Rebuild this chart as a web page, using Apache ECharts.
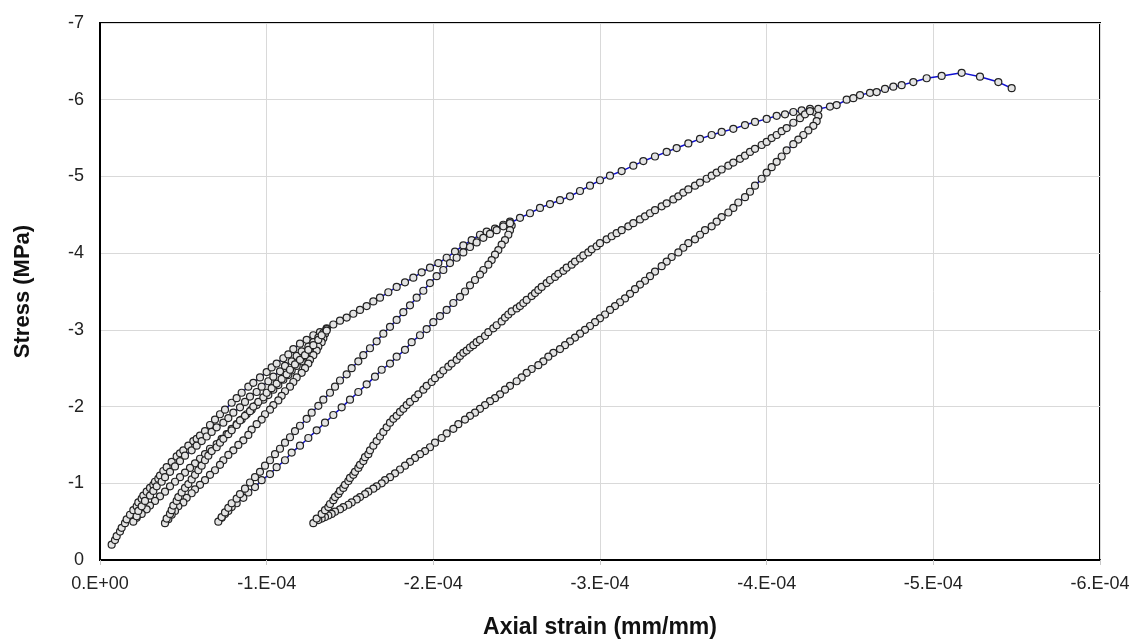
<!DOCTYPE html>
<html>
<head>
<meta charset="utf-8">
<script src="https://cdn.jsdelivr.net/npm/echarts@6/dist/echarts.min.js"></script>
<style>
html,body{margin:0;padding:0;background:#fff;}
#chart{width:1137px;height:639px;}
</style>
</head>
<body>
<div id="chart"></div>
<script>
// Strain values are given in units of 1E-04 mm/mm, stress in MPa (compression negative)
const xTickValues = [0, -1, -2, -3, -4, -5, -6]; // ×1E-04
const yTickLabels = ['0', '-1', '-2', '-3', '-4', '-5', '-6', '-7'];

const envelopeToP1 = [[-0.07,-0.20],[-0.09,-0.26],[-0.10,-0.31],[-0.12,-0.37],[-0.13,-0.42],[-0.15,-0.48],[-0.16,-0.53],[-0.18,-0.59],[-0.20,-0.65],[-0.22,-0.70],[-0.23,-0.75],[-0.25,-0.80],[-0.26,-0.84],[-0.28,-0.89],[-0.30,-0.94],[-0.32,-0.98],[-0.33,-1.02],[-0.35,-1.06],[-0.36,-1.10],[-0.38,-1.16],[-0.40,-1.21],[-0.43,-1.28],[-0.46,-1.35],[-0.48,-1.39],[-0.50,-1.43],[-0.53,-1.49],[-0.56,-1.55],[-0.58,-1.58],[-0.60,-1.62],[-0.63,-1.68],[-0.66,-1.76],[-0.69,-1.83],[-0.72,-1.90],[-0.75,-1.96],[-0.79,-2.05],[-0.82,-2.11],[-0.85,-2.18],[-0.89,-2.26],[-0.92,-2.31],[-0.96,-2.38],[-1.00,-2.45],[-1.03,-2.51],[-1.06,-2.56],[-1.10,-2.63],[-1.13,-2.68],[-1.16,-2.75],[-1.20,-2.82],[-1.24,-2.87],[-1.28,-2.93],[-1.32,-2.97],[-1.36,-3.02]];

const loop1aUnload = [[-1.36,-3.01],[-1.35,-2.96],[-1.33,-2.91],[-1.32,-2.87],[-1.30,-2.82],[-1.28,-2.77],[-1.26,-2.71],[-1.23,-2.65],[-1.21,-2.59],[-1.18,-2.53],[-1.15,-2.47],[-1.13,-2.41],[-1.10,-2.35],[-1.07,-2.28],[-1.04,-2.22],[-1.01,-2.15],[-0.98,-2.09],[-0.94,-2.02],[-0.91,-1.96],[-0.88,-1.90],[-0.85,-1.83],[-0.82,-1.77],[-0.79,-1.71],[-0.76,-1.64],[-0.73,-1.58],[-0.70,-1.51],[-0.66,-1.45],[-0.63,-1.38],[-0.60,-1.32],[-0.57,-1.26],[-0.54,-1.20],[-0.51,-1.14],[-0.48,-1.08],[-0.45,-1.02],[-0.42,-0.96],[-0.39,-0.89],[-0.36,-0.83],[-0.33,-0.77],[-0.30,-0.71],[-0.28,-0.66],[-0.25,-0.60],[-0.22,-0.55],[-0.20,-0.50]];

const loop1aReload = [[-0.22,-0.57],[-0.23,-0.64],[-0.25,-0.70],[-0.27,-0.77],[-0.30,-0.84],[-0.32,-0.90],[-0.34,-0.96],[-0.37,-1.02],[-0.39,-1.08],[-0.42,-1.15],[-0.45,-1.22],[-0.48,-1.29],[-0.51,-1.36],[-0.55,-1.43],[-0.58,-1.49],[-0.61,-1.55],[-0.64,-1.61],[-0.67,-1.67],[-0.70,-1.73],[-0.74,-1.79],[-0.77,-1.85],[-0.80,-1.92],[-0.84,-1.99],[-0.87,-2.06],[-0.90,-2.13],[-0.94,-2.19],[-0.97,-2.26],[-1.01,-2.33],[-1.04,-2.39],[-1.08,-2.46],[-1.11,-2.53],[-1.15,-2.59],[-1.18,-2.66],[-1.21,-2.72],[-1.25,-2.78],[-1.28,-2.84],[-1.31,-2.90],[-1.34,-2.96],[-1.36,-3.01]];

const loop1bUnload = [[-1.35,-2.95],[-1.34,-2.89],[-1.33,-2.84],[-1.31,-2.78],[-1.30,-2.73],[-1.28,-2.67],[-1.26,-2.61],[-1.25,-2.56],[-1.23,-2.50],[-1.21,-2.44],[-1.18,-2.38],[-1.16,-2.32],[-1.14,-2.26],[-1.11,-2.20],[-1.09,-2.14],[-1.07,-2.08],[-1.04,-2.02],[-1.02,-1.96],[-0.99,-1.90],[-0.97,-1.83],[-0.94,-1.77],[-0.91,-1.70],[-0.89,-1.63],[-0.86,-1.56],[-0.83,-1.50],[-0.80,-1.43],[-0.77,-1.37],[-0.74,-1.30],[-0.72,-1.24],[-0.69,-1.17],[-0.66,-1.11],[-0.63,-1.04],[-0.60,-0.98],[-0.57,-0.92],[-0.55,-0.87],[-0.52,-0.81],[-0.50,-0.75],[-0.47,-0.70],[-0.45,-0.64],[-0.43,-0.59],[-0.41,-0.53],[-0.39,-0.48]];

const loop1bReload = [[-0.40,-0.54],[-0.42,-0.60],[-0.43,-0.65],[-0.44,-0.71],[-0.46,-0.77],[-0.47,-0.82],[-0.49,-0.88],[-0.51,-0.94],[-0.53,-0.99],[-0.55,-1.05],[-0.57,-1.11],[-0.59,-1.17],[-0.61,-1.23],[-0.63,-1.30],[-0.65,-1.36],[-0.67,-1.42],[-0.70,-1.47],[-0.72,-1.53],[-0.74,-1.58],[-0.77,-1.64],[-0.79,-1.69],[-0.82,-1.76],[-0.84,-1.82],[-0.87,-1.88],[-0.90,-1.94],[-0.92,-2.00],[-0.95,-2.06],[-0.98,-2.12],[-1.00,-2.18],[-1.03,-2.24],[-1.06,-2.30],[-1.09,-2.36],[-1.12,-2.42],[-1.14,-2.48],[-1.17,-2.55],[-1.20,-2.61],[-1.23,-2.67],[-1.25,-2.74],[-1.28,-2.80],[-1.31,-2.87],[-1.33,-2.93],[-1.36,-2.99]];

const envelopeToP2 = [[-1.40,-3.07],[-1.44,-3.12],[-1.48,-3.16],[-1.52,-3.21],[-1.56,-3.26],[-1.60,-3.31],[-1.64,-3.37],[-1.68,-3.42],[-1.73,-3.49],[-1.78,-3.56],[-1.83,-3.62],[-1.88,-3.68],[-1.93,-3.75],[-1.98,-3.81],[-2.03,-3.87],[-2.08,-3.94],[-2.13,-4.02],[-2.18,-4.10],[-2.23,-4.17],[-2.28,-4.24],[-2.32,-4.28],[-2.37,-4.32],[-2.42,-4.37],[-2.46,-4.41]];

const loop2Unload = [[-2.47,-4.36],[-2.46,-4.30],[-2.45,-4.24],[-2.43,-4.17],[-2.41,-4.11],[-2.39,-4.04],[-2.37,-3.98],[-2.35,-3.91],[-2.33,-3.85],[-2.30,-3.78],[-2.28,-3.72],[-2.25,-3.65],[-2.22,-3.58],[-2.19,-3.50],[-2.16,-3.43],[-2.12,-3.35],[-2.08,-3.26],[-2.04,-3.18],[-2.00,-3.10],[-1.96,-3.01],[-1.92,-2.93],[-1.87,-2.84],[-1.83,-2.74],[-1.78,-2.65],[-1.74,-2.56],[-1.69,-2.48],[-1.65,-2.39],[-1.60,-2.29],[-1.55,-2.19],[-1.50,-2.09],[-1.45,-1.99],[-1.40,-1.89],[-1.35,-1.79],[-1.30,-1.69],[-1.25,-1.59],[-1.20,-1.49],[-1.15,-1.40],[-1.11,-1.30],[-1.06,-1.21],[-1.02,-1.12],[-0.97,-1.04],[-0.93,-0.95],[-0.89,-0.88],[-0.86,-0.81],[-0.82,-0.74],[-0.79,-0.69],[-0.77,-0.64],[-0.75,-0.60],[-0.73,-0.55],[-0.71,-0.50]];

const loop2Reload = [[-0.73,-0.56],[-0.75,-0.62],[-0.77,-0.68],[-0.79,-0.74],[-0.82,-0.80],[-0.84,-0.86],[-0.87,-0.93],[-0.90,-1.01],[-0.93,-1.08],[-0.96,-1.15],[-0.99,-1.23],[-1.02,-1.30],[-1.05,-1.38],[-1.08,-1.45],[-1.11,-1.53],[-1.14,-1.60],[-1.17,-1.68],[-1.20,-1.75],[-1.24,-1.84],[-1.27,-1.92],[-1.31,-2.01],[-1.34,-2.09],[-1.38,-2.18],[-1.41,-2.26],[-1.44,-2.34],[-1.48,-2.42],[-1.51,-2.50],[-1.55,-2.59],[-1.58,-2.67],[-1.62,-2.76],[-1.66,-2.85],[-1.70,-2.95],[-1.74,-3.04],[-1.78,-3.13],[-1.82,-3.23],[-1.86,-3.32],[-1.90,-3.42],[-1.94,-3.51],[-1.98,-3.61],[-2.02,-3.70],[-2.06,-3.78],[-2.10,-3.87],[-2.14,-3.94],[-2.18,-4.01],[-2.22,-4.08],[-2.26,-4.14],[-2.30,-4.20],[-2.34,-4.25],[-2.38,-4.30],[-2.42,-4.35],[-2.46,-4.39]];

const envelopeToP3 = [[-2.52,-4.46],[-2.58,-4.52],[-2.64,-4.59],[-2.70,-4.64],[-2.76,-4.69],[-2.82,-4.74],[-2.88,-4.81],[-2.94,-4.88],[-3.00,-4.95],[-3.06,-5.01],[-3.13,-5.07],[-3.20,-5.14],[-3.26,-5.20],[-3.33,-5.26],[-3.40,-5.32],[-3.46,-5.37],[-3.53,-5.43],[-3.60,-5.49],[-3.67,-5.54],[-3.73,-5.58],[-3.80,-5.62],[-3.87,-5.67],[-3.93,-5.71],[-4.00,-5.75],[-4.06,-5.79],[-4.11,-5.81],[-4.16,-5.84],[-4.21,-5.86],[-4.26,-5.88]];

const loop3Unload = [[-4.29,-5.84],[-4.31,-5.79],[-4.30,-5.72],[-4.28,-5.66],[-4.25,-5.60],[-4.22,-5.54],[-4.19,-5.48],[-4.16,-5.42],[-4.12,-5.34],[-4.09,-5.26],[-4.06,-5.19],[-4.03,-5.12],[-4.00,-5.05],[-3.97,-4.97],[-3.93,-4.88],[-3.90,-4.80],[-3.87,-4.73],[-3.83,-4.66],[-3.80,-4.59],[-3.77,-4.53],[-3.73,-4.47],[-3.70,-4.41],[-3.67,-4.35],[-3.63,-4.30],[-3.60,-4.24],[-3.57,-4.18],[-3.53,-4.13],[-3.50,-4.07],[-3.47,-4.01],[-3.43,-3.95],[-3.40,-3.89],[-3.37,-3.83],[-3.33,-3.76],[-3.30,-3.70],[-3.27,-3.64],[-3.24,-3.59],[-3.21,-3.53],[-3.18,-3.47],[-3.15,-3.41],[-3.12,-3.36],[-3.09,-3.31],[-3.06,-3.26],[-3.03,-3.20],[-3.00,-3.15],[-2.97,-3.10],[-2.94,-3.05],[-2.91,-3.00],[-2.88,-2.95],[-2.85,-2.90],[-2.82,-2.85],[-2.79,-2.80],[-2.76,-2.75],[-2.72,-2.70],[-2.69,-2.65],[-2.66,-2.59],[-2.63,-2.54],[-2.59,-2.49],[-2.56,-2.44],[-2.53,-2.38],[-2.50,-2.33],[-2.46,-2.27],[-2.43,-2.22],[-2.40,-2.16],[-2.37,-2.11],[-2.34,-2.07],[-2.31,-2.02],[-2.28,-1.97],[-2.25,-1.92],[-2.22,-1.88],[-2.19,-1.83],[-2.15,-1.77],[-2.12,-1.71],[-2.08,-1.65],[-2.05,-1.59],[-2.01,-1.53],[-1.98,-1.47],[-1.95,-1.42],[-1.92,-1.38],[-1.89,-1.33],[-1.86,-1.28],[-1.83,-1.23],[-1.80,-1.18],[-1.77,-1.13],[-1.74,-1.08],[-1.71,-1.04],[-1.69,-1.00],[-1.66,-0.96],[-1.64,-0.93],[-1.61,-0.89],[-1.59,-0.86],[-1.56,-0.82],[-1.54,-0.79],[-1.51,-0.75],[-1.49,-0.72],[-1.46,-0.69],[-1.44,-0.66],[-1.41,-0.63],[-1.39,-0.60],[-1.37,-0.58],[-1.35,-0.56],[-1.33,-0.54],[-1.31,-0.52],[-1.28,-0.48]];

const loop3Reload = [[-1.30,-0.54],[-1.33,-0.60],[-1.35,-0.65],[-1.37,-0.69],[-1.38,-0.73],[-1.40,-0.78],[-1.41,-0.82],[-1.43,-0.86],[-1.44,-0.90],[-1.46,-0.94],[-1.47,-0.98],[-1.49,-1.03],[-1.50,-1.07],[-1.52,-1.11],[-1.53,-1.15],[-1.55,-1.20],[-1.56,-1.24],[-1.58,-1.29],[-1.59,-1.34],[-1.61,-1.38],[-1.62,-1.43],[-1.64,-1.49],[-1.66,-1.55],[-1.68,-1.61],[-1.70,-1.67],[-1.72,-1.73],[-1.74,-1.79],[-1.76,-1.84],[-1.78,-1.88],[-1.80,-1.93],[-1.82,-1.97],[-1.84,-2.02],[-1.86,-2.06],[-1.89,-2.11],[-1.91,-2.16],[-1.94,-2.22],[-1.96,-2.27],[-1.99,-2.32],[-2.01,-2.37],[-2.04,-2.42],[-2.06,-2.47],[-2.09,-2.52],[-2.11,-2.56],[-2.14,-2.61],[-2.16,-2.66],[-2.18,-2.70],[-2.20,-2.73],[-2.22,-2.77],[-2.24,-2.80],[-2.26,-2.84],[-2.28,-2.87],[-2.31,-2.92],[-2.33,-2.97],[-2.36,-3.02],[-2.38,-3.06],[-2.41,-3.11],[-2.43,-3.16],[-2.45,-3.20],[-2.47,-3.24],[-2.50,-3.28],[-2.52,-3.31],[-2.54,-3.35],[-2.56,-3.39],[-2.59,-3.44],[-2.61,-3.48],[-2.63,-3.52],[-2.65,-3.56],[-2.68,-3.61],[-2.70,-3.65],[-2.73,-3.69],[-2.75,-3.73],[-2.78,-3.77],[-2.80,-3.81],[-2.83,-3.85],[-2.85,-3.89],[-2.88,-3.93],[-2.90,-3.97],[-2.93,-4.01],[-2.95,-4.05],[-2.98,-4.09],[-3.00,-4.13],[-3.04,-4.18],[-3.07,-4.22],[-3.10,-4.26],[-3.13,-4.30],[-3.17,-4.35],[-3.20,-4.39],[-3.24,-4.44],[-3.27,-4.48],[-3.30,-4.52],[-3.33,-4.56],[-3.37,-4.61],[-3.40,-4.65],[-3.44,-4.70],[-3.47,-4.74],[-3.50,-4.79],[-3.53,-4.83],[-3.57,-4.88],[-3.60,-4.92],[-3.64,-4.97],[-3.67,-5.01],[-3.70,-5.05],[-3.73,-5.09],[-3.77,-5.14],[-3.80,-5.18],[-3.84,-5.23],[-3.87,-5.27],[-3.90,-5.32],[-3.93,-5.36],[-3.97,-5.41],[-4.00,-5.45],[-4.03,-5.50],[-4.06,-5.54],[-4.09,-5.59],[-4.12,-5.63],[-4.16,-5.70],[-4.20,-5.76],[-4.23,-5.81],[-4.26,-5.85]];

const envelopeToEnd = [[-4.31,-5.88],[-4.38,-5.91],[-4.42,-5.93],[-4.48,-6.00],[-4.52,-6.02],[-4.56,-6.06],[-4.62,-6.09],[-4.66,-6.10],[-4.71,-6.14],[-4.76,-6.17],[-4.81,-6.19],[-4.88,-6.23],[-4.96,-6.28],[-5.05,-6.31],[-5.17,-6.35],[-5.28,-6.30],[-5.39,-6.23],[-5.47,-6.15]];

const segments = [envelopeToP1, loop1aUnload, loop1aReload, loop1bUnload, loop1bReload,
  envelopeToP2, loop2Unload, loop2Reload, envelopeToP3, loop3Unload, loop3Reload, envelopeToEnd];

const STRAIN_UNIT = 1e-4;
const seriesData = [];
segments.forEach(seg => seg.forEach(([s, st]) => seriesData.push([s * STRAIN_UNIT, st])));

const chart = echarts.init(document.getElementById('chart'), null, {renderer: 'canvas'});
const FONT = '"Liberation Sans", Arial, sans-serif';

chart.setOption({
  animation: false,
  backgroundColor: '#ffffff',
  grid: {left: 100, right: 37, top: 23, bottom: 79, show: true, borderColor: '#000', borderWidth: 2,
         backgroundColor: 'transparent', containLabel: false, outerBoundsMode: 'none'},
  xAxis: {
    type: 'value',
    min: xTickValues[xTickValues.length - 1] * STRAIN_UNIT,
    max: xTickValues[0] * STRAIN_UNIT,
    interval: STRAIN_UNIT,
    inverse: true,
    name: 'Axial strain (mm/mm)',
    nameLocation: 'middle',
    nameGap: 56,
    nameTextStyle: {fontFamily: FONT, fontSize: 23, fontWeight: 'bold', color: '#111'},
    axisLine: {show: true, onZero: false, lineStyle: {color: '#000', width: 2}},
    axisTick: {show: true, length: 5, lineStyle: {color: '#c8c8c8'}},
    axisLabel: {
      margin: 15, fontFamily: FONT, fontSize: 18, color: '#222',
      formatter: v => { const n = Math.round(v / STRAIN_UNIT); return n === 0 ? '0.E+00' : n + '.E-04'; }
    },
    splitLine: {show: true, lineStyle: {color: '#d9d9d9', width: 1}}
  },
  yAxis: {
    type: 'value',
    min: -7, max: 0, interval: 1,
    inverse: true,
    name: 'Stress (MPa)',
    nameLocation: 'middle',
    nameGap: 66,
    nameRotate: 90,
    nameTextStyle: {fontFamily: FONT, fontSize: 22, fontWeight: 'bold', color: '#111'},
    axisLine: {show: true, onZero: false, lineStyle: {color: '#000', width: 2}},
    axisTick: {show: false},
    axisLabel: {
      margin: 16, fontFamily: FONT, fontSize: 18, color: '#222',
      formatter: v => yTickLabels[Math.round(-v)]
    },
    splitLine: {show: true, lineStyle: {color: '#d9d9d9', width: 1}}
  },
  series: [{
    type: 'line',
    data: seriesData,
    showAllSymbol: true,
    symbol: 'circle',
    symbolSize: 7,
    lineStyle: {color: '#1010d0', width: 1.5},
    itemStyle: {color: '#e4e4e4', borderColor: '#222', borderWidth: 1.2},
    emphasis: {disabled: true},
    z: 3
  }]
});
</script>
</body>
</html>
